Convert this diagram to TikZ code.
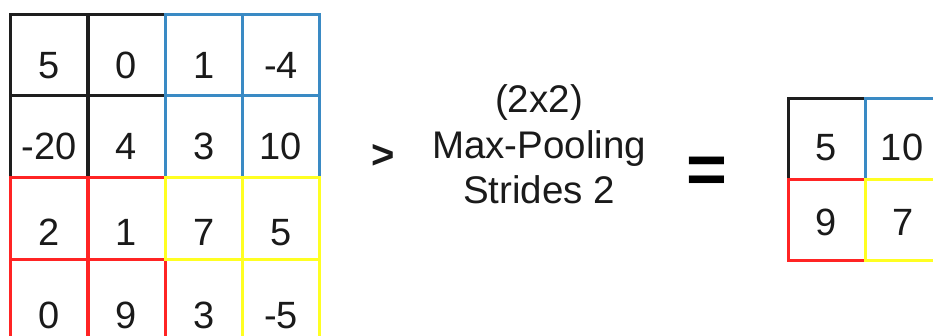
\documentclass[tikz,border=0pt]{standalone}
\usepackage{fontspec}
\setmainfont{Liberation Sans}
\definecolor{qblack}{HTML}{1E1E1E}
\definecolor{qblue}{HTML}{3A8AC4}
\definecolor{qred}{HTML}{FF2424}
\definecolor{qyellow}{HTML}{FFFF22}
\definecolor{txt}{HTML}{1A1A1A}
\tikzset{
  cell/.style={draw, line width=3pt, minimum width=77pt, minimum height=81.5pt, inner sep=0pt, anchor=north west},
  num/.style={font=\fontsize{38}{40}\selectfont, text=txt, anchor=base, inner sep=0pt},
  caption/.style={font=\fontsize{38.5}{40}\selectfont, text=txt, anchor=base, inner sep=0pt},
}
\begin{document}
\begin{tikzpicture}[x=1pt,y=-1pt]
\useasboundingbox (0,0) rectangle (933,335);
\clip (0,0) rectangle (933,335);
% left grid: black quadrant
\node[cell, draw=qblack] (a11) at (9,12.7) {};
\node[cell, draw=qblack] (a12) at (86.5,12.7) {};
\node[cell, draw=qblack] (a21) at (9,94.3) {};
\node[cell, draw=qblack] (a22) at (86.5,94.3) {};
% blue quadrant
\node[cell, draw=qblue] (a13) at (164,12.7) {};
\node[cell, draw=qblue] (a14) at (241,12.7) {};
\node[cell, draw=qblue] (a23) at (164,94.3) {};
\node[cell, draw=qblue] (a24) at (241,94.3) {};
% yellow quadrant
\node[cell, draw=qyellow] (a34) at (241,176) {};
\node[cell, draw=qyellow] (a44) at (241,258.3) {};
\node[cell, draw=qyellow] (a43) at (164,258.3) {};
% red quadrant
\node[cell, draw=qred] (a31) at (9,176) {};
\node[cell, draw=qred] (a32) at (86.5,176) {};
\node[cell, draw=qred] (a41) at (9,258.3) {};
\node[cell, draw=qred] (a42) at (86.5,258.3) {};
\node[cell, draw=qyellow] (a33) at (164,176) {};
% numbers
\node[num] (n11) at (a11.center |- 0,78) {5};
\node[num] (n12) at (a12.center |- 0,78) {0};
\node[num] (n13) at (a13.center |- 0,78) {1};
\node[num] (n14) at (a14.center |- 0,78) {-4};
\node[num] (n21) at (a21.center |- 0,159) {-20};
\node[num] (n22) at (a22.center |- 0,159) {4};
\node[num] (n23) at (a23.center |- 0,159) {3};
\node[num] (n24) at (a24.center |- 0,159) {10};
\node[num] (n31) at (a31.center |- 0,245) {2};
\node[num] (n32) at (a32.center |- 0,245) {1};
\node[num] (n33) at (a33.center |- 0,245) {7};
\node[num] (n34) at (a34.center |- 0,245) {5};
\node[num] (n41) at (a41.center |- 0,328) {0};
\node[num] (n42) at (a42.center |- 0,328) {9};
\node[num] (n43) at (a43.center |- 0,328) {3};
\node[num] (n44) at (a44.center |- 0,328) {-5};
% operator and caption
\node[font=\fontsize{40}{40}\bfseries\selectfont, text=txt, inner sep=0pt] (gt) at (383,156) {>};
\node[caption] (c1) at (539,112) {(2x2)};
\node[caption] (c2) at (539,158) {Max-Pooling};
\node[caption] (c3) at (539,203) {Strides 2};
\node[font=\fontsize{70}{70}\bfseries\selectfont, text=black, inner sep=0pt] (eq) at (706.5,175) {=};
% right grid
\node[cell, draw=qblack, minimum height=81pt] (b11) at (786.7,96.7) {};
\node[cell, draw=qblue, minimum height=81pt] (b12) at (863.5,96.7) {};
\node[cell, draw=qred, minimum height=81pt] (b21) at (786.7,177.7) {};
\node[cell, draw=qyellow, minimum height=81pt] (b22) at (863.5,177.7) {};
\node[num] (m11) at (826,160) {5};
\node[num] (m12) at (902,160) {10};
\node[num] (m21) at (826,235) {9};
\node[num] (m22) at (903,235) {7};
\end{tikzpicture}
\end{document}
